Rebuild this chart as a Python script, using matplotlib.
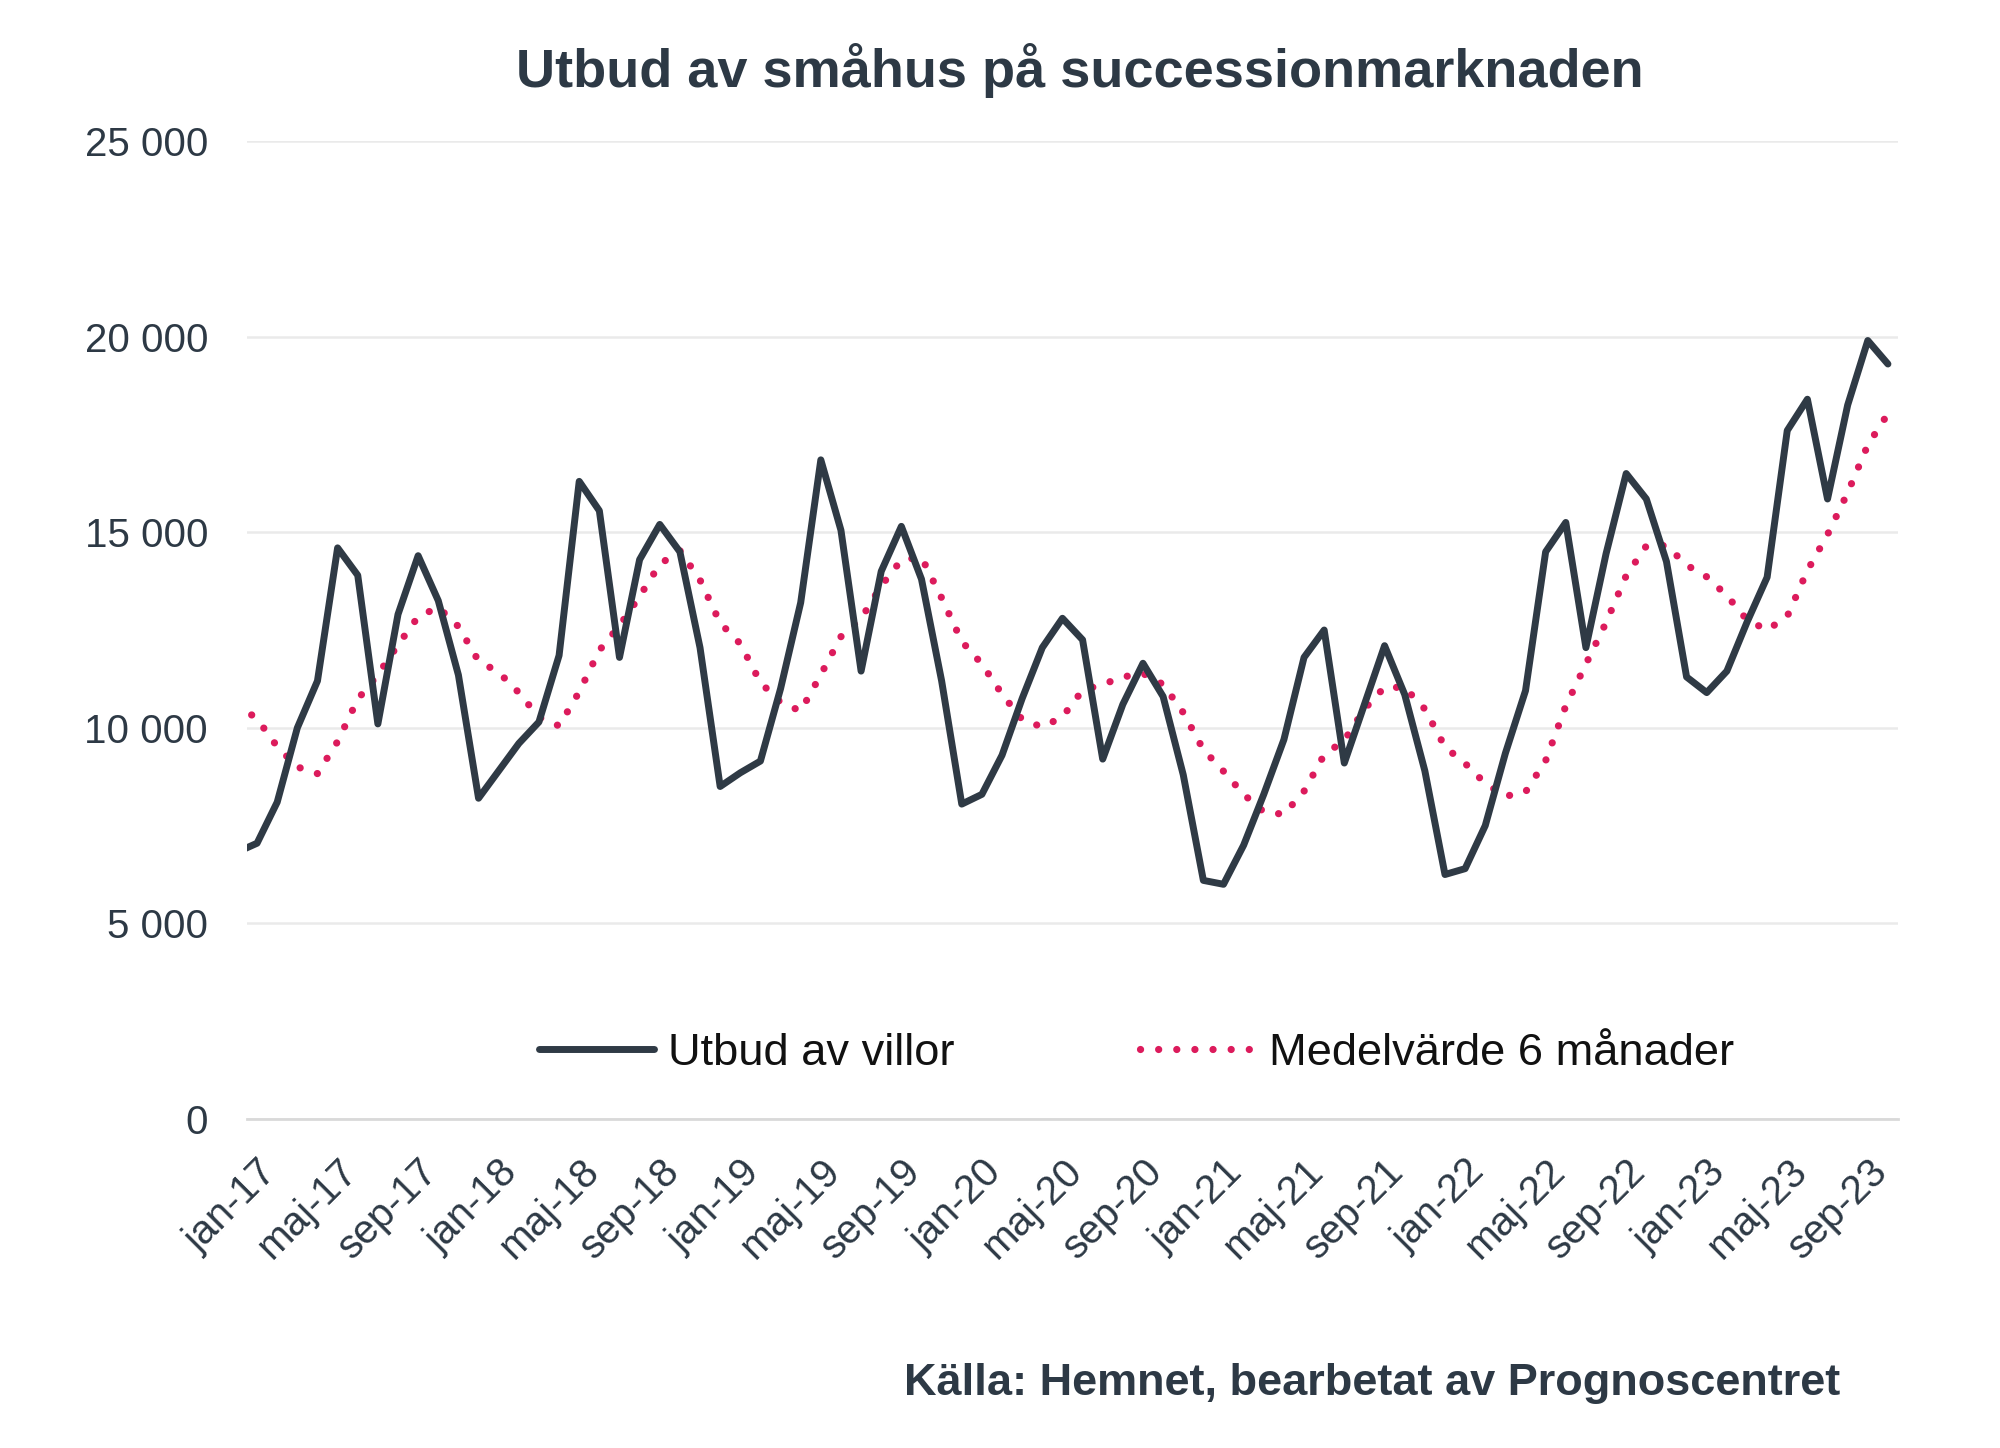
import matplotlib
matplotlib.use("Agg")
import matplotlib.pyplot as plt
import numpy as np
from matplotlib.ticker import FuncFormatter

plt.rcParams['font.family'] = ['Liberation Sans', 'DejaVu Sans']

# ---- data (monthly, dec-16 .. okt-23; dec-16 lies just outside the left edge) ----
month_names = ["jan", "feb", "mar", "apr", "maj", "jun", "jul", "aug", "sep", "okt", "nov", "dec"]
month_labels = ["dec-16"] + [f"{m}-{y}" for y in range(17, 24) for m in month_names][:82]

villor = [
    6820,
    7050, 8100, 10000, 11200, 14600, 13900, 10100, 12900, 14400, 13250, 11350, 8200,
    8900, 9600, 10150, 11850, 16300, 15550, 11800, 14300, 15200, 14500, 12050, 8500,
    8850, 9150, 11000, 13200, 16850, 15050, 11450, 14000, 15150, 13800, 11200, 8050,
    8300, 9300, 10750, 12050, 12800, 12250, 9200, 10600, 11650, 10800, 8800, 6100,
    6000, 7000, 8300, 9700, 11800, 12500, 9100, 10600, 12100, 10850, 8900, 6250,
    6400, 7500, 9350, 10950, 14500, 15250, 12050, 14450, 16500, 15850, 14250, 11300,
    10900, 11450, 12700, 13850, 17600, 18400, 15850, 18250, 19900, 19300,
]

medel6 = [
    10600,
    10230, 9520, 9000, 8830, 9650, 10730, 11360, 12120, 12840, 13080, 12590, 11710,
    11420, 10900, 10270, 10050, 10920, 11980, 12610, 13360, 14180, 14530, 13780, 12680,
    12150, 11160, 10650, 10430, 11360, 12330, 12790, 13630, 14290, 14360, 13320, 12210,
    11630, 10860, 10210, 10020, 10280, 10960, 11110, 11300, 11390, 11110, 10390, 9440,
    8890, 8300, 7850, 7790, 8380, 9310, 9680, 10480, 11040, 11030, 10480, 9510,
    9090, 8580, 8250, 8360, 9160, 10560, 11630, 12690, 13890, 14650, 14660, 14160,
    13860, 13380, 12760, 12500, 12850, 14020, 14940, 16010, 17230, 18030,
]

tick_labels = ["jan-17", "maj-17", "sep-17", "jan-18", "maj-18", "sep-18",
               "jan-19", "maj-19", "sep-19", "jan-20", "maj-20", "sep-20",
               "jan-21", "maj-21", "sep-21", "jan-22", "maj-22", "sep-22",
               "jan-23", "maj-23", "sep-23"]
y_ticks = [0, 5000, 10000, 15000, 20000, 25000]

series_names = ["Utbud av villor", "Medelvärde 6 månader"]
title = "Utbud av småhus på successionmarknaden"
source = "Källa: Hemnet, bearbetat av Prognoscentret"

# ---- styling ----
dark = "#2F3A45"
pink = "#DC1B5C"
textc = "#2D3945"

fig = plt.figure(figsize=(20, 14.48), dpi=100)
ax = fig.add_axes([0.1235, 0.2272, 0.8255, 0.6754])

x = np.arange(len(villor)) - 1  # jan-17 -> 0

ax.plot(x, villor, color=dark, lw=5.0, solid_joinstyle="round",
        solid_capstyle="round", label=series_names[0], zorder=3)
ax.plot(x, medel6, color=pink, lw=5.2, linestyle=(0, (0.01, 2.5)),
        dash_capstyle="round", label=series_names[1], zorder=2)

ax.set_xlim(-0.5, 81.5)
ax.set_ylim(0, 25000)

ax.set_yticks(y_ticks)
ax.yaxis.set_major_formatter(FuncFormatter(lambda v, p: f"{int(v):,}".replace(",", " ")))
ax.yaxis.grid(True, color="#EAEAEA", lw=1.8)
ax.set_axisbelow(True)

tick_pos = [month_labels.index(t) - 1 for t in tick_labels]
ax.set_xticks(tick_pos)
ax.set_xticklabels(tick_labels, rotation=45, ha="right", va="top",
                   rotation_mode="anchor")

for s in ["top", "right", "left"]:
    ax.spines[s].set_visible(False)
ax.spines["bottom"].set_color("#D9D9D9")
ax.spines["bottom"].set_linewidth(2)

ax.tick_params(axis="both", length=0, labelsize=29, colors=textc)
ax.tick_params(axis="y", pad=28)
ax.tick_params(axis="x", pad=24)

leg = ax.legend(loc="center", bbox_to_anchor=(0.5388, 0.0675), ncol=2,
                frameon=False, fontsize=32.6, handlelength=2.55,
                handletextpad=0.3, columnspacing=4.1)
for t in leg.get_texts():
    t.set_color("#111111")

fig.text(0.54, 1 - 87 / 1448, title, ha="center", va="baseline",
         fontsize=39, fontweight="bold", color=textc)
fig.text(1840 / 2000, 1 - 1395 / 1448, source, ha="right", va="baseline",
         fontsize=32.5, fontweight="bold", color=textc)

fig.savefig("out.png", dpi=100)
